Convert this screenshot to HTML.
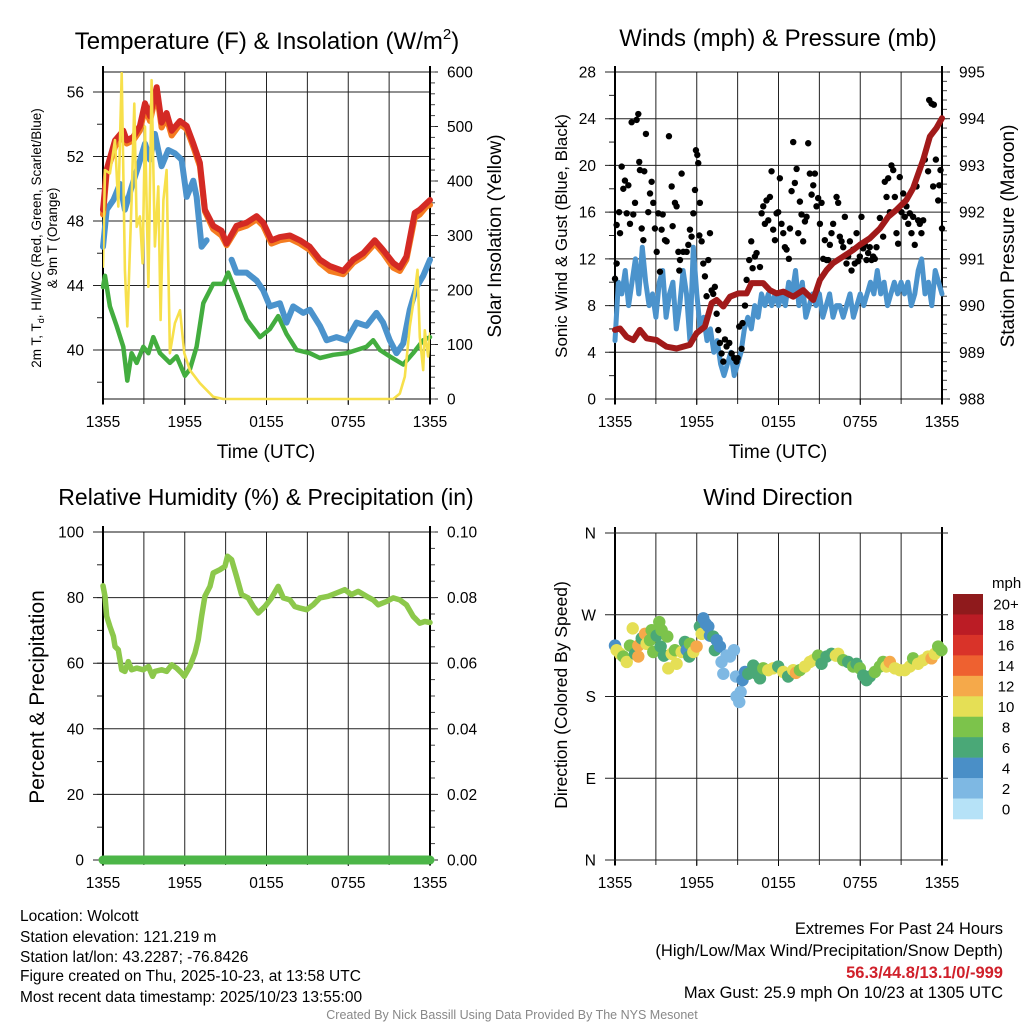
<!DOCTYPE html>
<html>
<head>
<meta charset="utf-8">
<title>Wolcott Mesonet Meteogram</title>
<style>
  html,body{margin:0;padding:0;background:#fff;}
  svg{display:block;font-family:"Liberation Sans",Arial,sans-serif;}
</style>
</head>
<body>
<svg id="chart" width="1024" height="1024" viewBox="0 0 1024 1024" xmlns="http://www.w3.org/2000/svg">
  <rect x="0" y="0" width="1024" height="1024" fill="#fff"/>
  <text x="267" y="49" font-size="24" text-anchor="middle">Temperature (F) &amp; Insolation (W/m<tspan font-size="15" dy="-10">2</tspan><tspan dy="10">)</tspan></text>
  <text x="778" y="46" font-size="24" text-anchor="middle">Winds (mph) &amp; Pressure (mb)</text>
  <text x="266" y="505" font-size="23" text-anchor="middle">Relative Humidity (%) &amp; Precipitation (in)</text>
  <text x="778" y="505" font-size="23" text-anchor="middle">Wind Direction</text>

  <text x="266" y="458" font-size="19" text-anchor="middle">Time (UTC)</text>
  <text x="778" y="458" font-size="19" text-anchor="middle">Time (UTC)</text>
  <text transform="translate(41,238) rotate(-90)" font-size="13.5" text-anchor="middle">2m T, T<tspan font-size="9" dy="3">d</tspan><tspan dy="-3">, HI/WC (Red, Green, Scarlet/Blue)</tspan></text>
  <text transform="translate(57,238) rotate(-90)" font-size="13.5" text-anchor="middle">&amp; 9m T (Orange)</text>
  <text transform="translate(501,236) rotate(-90)" font-size="19" text-anchor="middle">Solar Insolation (Yellow)</text>
  <text transform="translate(567,236) rotate(-90)" font-size="17" text-anchor="middle">Sonic Wind &amp; Gust (Blue, Black)</text>
  <text transform="translate(1014,236) rotate(-90)" font-size="19" text-anchor="middle">Station Pressure (Maroon)</text>
  <text transform="translate(44,697) rotate(-90)" font-size="21" text-anchor="middle">Percent &amp; Precipitation</text>
  <text transform="translate(567,695) rotate(-90)" font-size="17.5" text-anchor="middle">Direction (Colored By Speed)</text>

  <g font-size="15.5">
    <text x="20" y="921">Location: Wolcott</text>
    <text x="20" y="942">Station elevation: 121.219 m</text>
    <text x="20" y="962">Station lat/lon: 43.2287; -76.8426</text>
    <text x="20" y="981">Figure created on Thu, 2025-10-23, at 13:58 UTC</text>
    <text x="20" y="1002">Most recent data timestamp: 2025/10/23 13:55:00</text>
  </g>
  <g font-size="16.5" text-anchor="end">
    <text x="1003" y="934">Extremes For Past 24 Hours</text>
    <text x="1003" y="956">(High/Low/Max Wind/Precipitation/Snow Depth)</text>
    <text x="1003" y="978" fill="#d0202a" font-weight="bold">56.3/44.8/13.1/0/-999</text>
    <text x="1003" y="998">Max Gust: 25.9 mph On 10/23 at 1305 UTC</text>
  </g>
  <text x="512" y="1019" font-size="12.5" fill="#888" text-anchor="middle">Created By Nick Bassill Using Data Provided By The NYS Mesonet</text>
</svg>
<script>
const xTickLabels = ["1355","1955","0155","0755","1355"];
const tempHours = [0,0.27,0.88,1.49,1.74,2.22,2.71,3.08,3.45,3.94,4.30,4.67,5.04,5.65,6.14,6.63,7.11,7.48,8.09,8.70,9.07,9.80,10.54,11.27,11.76,12.37,12.98,13.72,14.45,15.18,15.92,16.65,17.63,18.36,19.10,19.95,20.56,21.30,21.78,22.27,22.88,23.25,23.74,24];
const temp2m = [48.7,51.2,53.0,53.6,53.0,53.2,53.9,55.3,54.5,56.3,54.1,54.7,53.6,54.2,53.9,52.8,51.6,48.7,47.7,47.4,46.6,47.7,47.9,48.3,47.9,46.8,47.0,47.1,46.8,46.4,45.6,45.2,44.9,45.6,46.0,46.8,46.2,45.4,45.1,45.8,48.5,48.7,49.1,49.3];
const temp9m = [48.4,51.0,52.6,53.4,52.8,53.0,53.6,55.0,54.2,56.0,53.8,54.4,53.3,54.0,53.7,52.6,51.4,48.6,47.5,47.1,46.5,47.5,47.7,48.1,47.7,46.6,46.8,46.9,46.6,46.2,45.4,44.9,44.7,45.4,45.8,46.6,46.0,45.1,44.9,45.6,48.2,48.4,48.9,49.0];
const chillHours = [0,0.27,0.76,1.25,1.61,2.10,2.59,3.08,3.45,3.81,4.30,4.79,5.28,5.77,6.14,6.63,6.87,7.24,7.60,8.5,9.44,9.80,10.54,11.27,11.76,12.25,12.98,13.47,13.96,14.69,15.18,15.92,16.41,17.14,17.87,18.61,19.34,20.07,20.56,21.05,21.54,22.03,22.52,23.01,23.50,24];
const windChill = [46.4,48.7,49.3,50.3,48.7,50.1,51.4,52.8,51.8,53.4,51.4,52.4,52.2,51.8,49.5,50.5,49.5,46.4,46.8,null,45.6,44.8,44.8,44.3,43.7,42.7,42.9,41.7,42.7,42.3,42.5,41.5,40.6,40.8,40.6,41.7,41.5,42.3,41.7,40.6,39.8,40.4,42.5,43.9,44.6,45.6];
const dewHours = [0,0.15,0.51,1.0,1.49,1.78,2.10,2.47,2.96,3.33,3.69,4.18,4.91,5.40,6.01,6.38,6.87,7.36,8.09,8.83,9.19,9.80,10.54,11.52,12.25,12.86,13.47,14.21,15.18,15.92,16.90,17.87,18.61,19.34,19.83,20.32,21.05,22.03,22.76,23.50,24];
const dewPoint = [43.9,44.6,42.7,41.5,40.2,38.1,39.8,39.2,40.2,39.8,40.8,39.8,39.2,39.6,38.4,38.8,40.2,42.9,44.1,44.1,44.8,43.5,41.9,40.8,41.3,42.1,41.0,40.0,39.8,39.5,39.7,39.8,40.0,40.2,40.6,40.0,39.6,39.1,39.8,40.6,40.8];
const solarHours = [0,0.15,0.51,0.88,1.12,1.37,1.61,1.78,2.10,2.30,2.47,2.71,2.91,3.08,3.33,3.57,3.81,4.06,4.23,4.43,4.67,4.91,5.28,5.65,5.97,6.38,7.11,8.09,8.83,21.30,21.78,22.15,22.52,22.88,23.08,23.25,23.50,23.62,23.86,24];
const solar = [243,420,414,475,353,598,237,133,365,542,316,335,249,500,206,585,280,390,145,365,420,84,139,163,84,53,29,4,0,0,10,41,133,194,237,114,53,126,78,120];
const p1LeftTicks = [40,44,48,52,56];
const p1RightTicks = [0,100,200,300,400,500,600];
const sonicWind = [5,10,9,11,8,10,12,9,13,10,8,9,7,10,11,7,9,10,6,8,11,9,5,13,
  9,6,7,5,6,4,5,3,2,3,4,2,
  3,4,6,7,6,8,7,9,8,9,8,9,
  8,9,8,10,9,11,8,10,7,8,9,8,
  9,7,8,9,7,8,8,7,8,9,7,8,
  9,8,9,10,9,11,9,10,8,9,10,9,
  10,9,10,8,9,11,12,9,10,8,11,10,9];
const gustHours = [0,0.12,0.12,0.37,0.49,0.3,0.61,0.73,0.86,0.98,1.1,1.22,1.34,1.47,1.59,1.71,1.78,1.83,1.96,2.08,2.15,2.27,2.44,2.57,2.69,2.81,2.93,3.06,3.18,3.3,3.42,3.5,3.67,3.79,3.96,4.16,4.23,4.4,4.52,4.65,4.72,4.77,4.89,5.01,5.26,5.38,5.5,5.62,5.75,5.87,5.94,6.04,6.11,6.19,6.23,6.36,6.48,6.6,6.72,6.85,6.97,7.09,7.21,7.33,7.46,7.58,7.7,7.82,7.95,8.07,8.19,8.39,8.56,8.75,8.92,9,9.12,9.29,9.36,9.54,9.66,9.85,10,10.1,10.27,10.39,10.64,10.76,10.88,11,11.12,11.25,11.37,11.49,11.61,11.74,11.86,11.98,12.1,12.22,12.35,12.47,12.59,12.76,12.84,12.96,13.08,13.2,13.33,13.45,13.57,13.69,13.81,13.94,14.06,14.18,14.3,14.43,14.55,14.67,14.79,14.91,15.04,15.16,15.28,15.4,15.53,15.65,15.77,15.89,16.01,16.26,16.38,16.5,16.63,16.75,16.87,16.99,17.11,17.24,17.36,17.48,17.6,17.73,17.85,17.97,18.09,18.22,18.34,18.46,18.58,18.7,18.83,18.95,19.07,19.19,19.44,19.68,19.8,19.93,20.05,20.17,20.29,20.42,20.54,20.66,20.78,20.9,21.03,21.15,21.27,21.39,21.52,21.64,21.76,21.88,22,22.13,22.25,22.37,22.49,22.62,22.74,22.98,23.06,23.23,23.4,23.35,23.55,23.72,23.8,23.89,24];
const gustValues = [10.3,11.6,14.9,14.2,19.9,16.0,18.0,18.7,15.9,18.3,15.0,23.7,15.8,16.8,23.9,24.4,20.3,19.6,14.6,13.6,19.5,22.7,16.0,17.6,18.6,16.8,14.6,12.6,15.9,10.9,14.5,15.8,13.6,13.5,22.5,18.2,14.8,16.8,16.5,12.6,11.0,11.9,19.3,12.6,12.6,13.2,14.5,13.9,15.9,17.9,21.3,20.9,20.2,14.0,16.8,13.5,11.6,10.5,8.8,11.9,14.2,9.3,9.0,9.6,7.3,5.9,4.8,3.9,3.2,5.1,4.5,4.8,3.9,3.5,3.2,3.5,6.2,4.3,6.5,8.0,10.2,11.9,13.5,11.2,12.2,12.5,11.3,15.9,16.5,15.0,17.0,15.3,17.3,19.5,14.5,13.6,15.9,16.0,18.9,15.0,14.2,13.0,12.8,12.0,14.6,17.8,22.0,18.5,19.7,14.2,16.9,15.8,13.5,15.2,15.6,21.9,19.3,17.5,18.3,19.3,16.5,17.2,15.0,16.8,12.0,13.6,11.9,11.9,13.2,14.2,15.0,17.3,16.8,13.9,13.5,13.0,15.6,11.6,12.2,13.5,11.0,12.8,11.6,14.2,11.8,12.2,15.6,12.9,13.2,11.9,12.5,13.0,11.9,12.2,12.0,13.0,15.5,13.9,18.6,17.3,18.9,16.0,20.0,19.6,17.3,14.2,13.3,19.0,16.0,17.6,15.6,16.5,15.0,15.9,14.2,15.6,13.2,18.2,15.3,15.0,14.2,15.3,20.5,19.5,25.6,25.3,25.2,18.2,20.5,17.0,18.3,19.6,14.6];
const pressureHours = [0,0.37,0.86,1.34,1.83,2.32,3.06,3.79,4.52,5.50,5.99,6.60,7.09,7.46,7.95,8.44,9.05,9.66,10.02,10.88,11.37,11.86,12.35,13.08,13.81,14.55,15.04,15.53,16.01,16.75,17.48,17.97,18.70,19.44,20.05,20.66,21.39,21.88,22.62,23.11,23.59,24];
const pressure = [989.48,989.51,989.33,989.26,989.48,989.30,989.26,989.12,989.08,989.16,989.41,989.55,990.05,990.12,989.98,990.19,990.26,990.26,990.48,990.48,990.33,990.26,990.30,990.19,990.33,990.12,990.55,990.76,990.91,991.05,991.19,991.30,991.44,991.65,991.90,992.05,992.26,992.51,993.12,993.62,993.80,994.01];
const p2LeftTicks = [0,4,8,12,16,20,24,28];
const p2RightTicks = [988,989,990,991,992,993,994,995];
const rhHours = [0,0.15,0.27,0.51,0.76,0.88,1.12,1.37,1.61,1.86,2.1,2.47,2.96,3.33,3.64,3.81,4.3,4.67,5.04,5.4,5.77,5.97,6.38,6.75,6.99,7.24,7.48,7.85,8.09,8.58,8.95,9.14,9.44,9.8,10.17,10.66,11.03,11.39,11.88,12.37,12.86,13.23,13.72,14.08,14.45,14.94,15.43,15.92,16.53,17.14,17.75,18.24,18.73,19.34,19.83,20.2,20.81,21.3,21.78,22.27,22.76,23.25,23.62,24];
const rhValues = [83.6,80.4,74.3,71.2,68.2,65.1,64.1,58.0,57.5,60.5,58.0,58.5,58.0,59.0,56.0,57.5,58.0,57.5,59.5,58.5,57.0,56.0,59.0,63.1,67.1,74.3,80.4,83.4,87.5,88.5,89.5,92.6,91.6,86.5,80.9,79.9,77.3,75.3,77.3,79.9,83.4,79.9,79.3,77.3,76.8,76.3,77.8,79.9,80.4,81.4,82.4,80.9,81.9,80.4,79.3,77.8,78.8,79.9,79.3,77.8,74.3,72.2,72.7,72.4];
const precipHours = [0,6,12,18,24];
const precipValues = [0,0,0,0,0];
const p3LeftTicks = [0,20,40,60,80,100];
const p3RightTicks = [0,0.02,0.04,0.06,0.08,0.10];
const dirHours = [0,0.12,0.37,0.61,0.86,1.10,1.30,1.47,1.71,1.71,1.96,2.20,2.32,2.57,2.69,2.81,3.06,3.25,3.42,3.35,3.59,3.84,3.91,4.16,4.40,4.52,4.89,5.13,5.26,5.45,5.50,5.75,5.99,6.23,6.36,6.48,6.67,6.85,6.97,7.21,7.33,7.46,7.70,7.82,7.95,8.19,8.44,8.73,8.88,8.92,9.12,9.22,9.36,9.54,9.78,10.15,10.39,10.64,10.88,11.25,11.61,11.98,12.35,12.71,13.08,13.28,13.57,13.94,14.30,14.55,14.91,15.16,15.53,15.89,16.21,16.38,16.75,17.11,17.48,17.73,17.97,18.22,18.46,18.70,19.07,19.44,19.68,19.93,20.17,20.54,20.90,21.27,21.64,21.88,22.25,22.62,22.98,23.23,23.47,23.72,23.96];
const dirDegrees = [236,231,227,224,218,236,255,227,236,224,244,249,238,242,253,229,247,262,253,235,225,246,211,227,231,216,229,240,231,224,238,229,235,257,249,266,260,257,247,246,231,242,235,218,205,225,224,231,202,180,174,185,198,207,205,214,205,200,211,209,211,213,207,202,209,206,209,213,218,220,225,216,224,227,225,227,220,218,213,216,211,203,198,202,207,213,218,213,218,211,209,209,213,222,216,220,224,222,227,235,231];
const dirSpeeds = [5,11,11,9,11,9,11,7,13,13,7,13,11,9,9,9,7,9,9,7,7,9,11,11,9,11,11,7,5,7,9,11,13,7,11,5,5,5,5,7,7,5,5,3,3,3,3,3,3,3,3,3,5,5,7,7,7,7,9,11,11,7,11,7,11,13,9,11,11,11,9,7,7,7,11,11,9,7,9,7,9,7,7,7,9,9,9,11,13,11,11,11,11,9,11,11,11,13,11,9,9];
const speedBinLabels = ["20+","18","16","14","12","10","8","6","4","2","0"];
const dirTickLabels = ["N","W","S","E","N"];
const dirTickDegrees = [360,270,180,90,0];

const NS = 'http://www.w3.org/2000/svg';
const svg = document.getElementById('chart');
function mk(tag, attrs, parent) {
  const e = document.createElementNS(NS, tag);
  for (const k in attrs) e.setAttribute(k, attrs[k]);
  (parent || svg).appendChild(e);
  return e;
}
const speedColors = ["#b6e2f7","#7eb8e3","#4a8fc7","#4aa877","#7cc34b","#e5df55","#f5a94a","#ee6130","#d93329","#bb1c25","#8f1a1c"];

const P1 = {id:'p1', x0:103, x1:430, y0:72, y1:399, lmin:36.96, lmax:57.24, rmin:0, rmax:600};
const P2 = {id:'p2', x0:615, x1:942, y0:72, y1:399, lmin:0, lmax:28, rmin:988, rmax:995};
const P3 = {id:'p3', x0:103, x1:430, y0:532, y1:860, lmin:0, lmax:100, rmin:0, rmax:0.1};
const P4 = {id:'p4', x0:615, x1:942, y0:533, y1:860, lmin:0, lmax:360, rmin:0, rmax:360};

function sx(p, h) { return p.x0 + h / 24 * (p.x1 - p.x0); }
function syL(p, v) { return p.y1 - (v - p.lmin) / (p.lmax - p.lmin) * (p.y1 - p.y0); }
function syR(p, v) { return p.y1 - (v - p.rmin) / (p.rmax - p.rmin) * (p.y1 - p.y0); }

function pathD(p, hours, vals, yfn) {
  let d = '', pen = false;
  const n = Math.min(hours.length, vals.length);
  for (let i = 0; i < n; i++) {
    if (vals[i] === null || hours[i] === null) { pen = false; continue; }
    d += (pen ? 'L' : 'M') + sx(p, hours[i]).toFixed(1) + ' ' + yfn(p, vals[i]).toFixed(1) + ' ';
    pen = true;
  }
  return d;
}

function frame(p, leftTicks, leftMinor, leftFmt, rightTicks, rightMinor, rightFmt) {
  const g = mk('g', {});
  
  
  for (let i = 1; i < 8; i++) {
    const x = sx(p, i * 3);
    const l = mk('line', {x1:x, x2:x, y1:p.y0, y2:p.y1 + 5, stroke:'#222', 'stroke-width':1}, g);
    
    
  }
  leftTicks.forEach(v => {
    const y = syL(p, v);
    const l = mk('line', {x1:p.x0 - 10, x2:p.x1, y1:y, y2:y, stroke:'#222', 'stroke-width':1}, g);
    
    
    const t = mk('text', {x:p.x0 - 19, y:y + 5.5, 'font-size':15.5, 'text-anchor':'end'}, g);
    t.textContent = leftFmt(v);
    
    
  });
  leftMinor.forEach(v => {
    const y = syL(p, v);
    const l = mk('line', {x1:p.x0 - 6, x2:p.x0, y1:y, y2:y, stroke:'#222', 'stroke-width':1}, g);
    
    
  });
  rightTicks.forEach(v => {
    const y = syR(p, v);
    const l = mk('line', {x1:p.x1, x2:p.x1 + 8, y1:y, y2:y, stroke:'#222', 'stroke-width':1}, g);
    
    
    if (rightFmt) {
      const t = mk('text', {x:p.x1 + 17, y:y + 5.5, 'font-size':15.5}, g);
      t.textContent = rightFmt(v);
      
      
    }
  });
  rightMinor.forEach(v => {
    const y = syR(p, v);
    const l = mk('line', {x1:p.x1, x2:p.x1 + 5, y1:y, y2:y, stroke:'#444', 'stroke-width':1}, g);
    
    
  });
  const b = mk('rect', {x:p.x0, y:p.y0, width:p.x1 - p.x0, height:p.y1 - p.y0, fill:'none', stroke:'#111', 'stroke-width':1}, g);
  
  
  [p.x0, p.x1].forEach(x => {
    const l = mk('line', {x1:x, x2:x, y1:p.y0 - 6, y2:p.y1 + 5, stroke:'#000', 'stroke-width':2}, g);
    
    
  });
  xTickLabels.forEach((s, i) => {
    const x = sx(p, i * 6);
    const l = mk('line', {x1:x, x2:x, y1:p.y1, y2:p.y1 + 6, stroke:'#000', 'stroke-width':1}, g);
    
    
    const t = mk('text', {x:x, y:p.y1 + 28, 'font-size':15.5, 'text-anchor':'middle'}, g);
    t.textContent = s;
    
    
  });
}
function range(a, b, s) { const r = []; for (let v = a; v <= b + 1e-9; v += s) r.push(+v.toFixed(4)); return r; }

frame(P1, p1LeftTicks, range(38, 56, 2), v => String(v), p1RightTicks, range(0, 600, 20), v => String(v));
frame(P2, p2LeftTicks, range(0, 28, 2), v => String(v), p2RightTicks, range(988, 995, 0.2), v => String(v));
frame(P3, p3LeftTicks, range(0, 100, 10), v => String(v), p3RightTicks, range(0, 0.1, 0.005), v => v.toFixed(2));
frame(P4, [], [], v => '', [], [], null);
dirTickDegrees.forEach((deg, i) => {
  const y = syL(P4, deg);
  const l = mk('line', {x1:P4.x0 - 10, x2:P4.x1 + 6, y1:y, y2:y, stroke:'#222', 'stroke-width':1});
  
  
  const t = mk('text', {x:P4.x0 - 19, y:y + 5.5, 'font-size':15.5, 'text-anchor':'end'});
  t.textContent = dirTickLabels[i];
  
  
});

const s1 = mk('g', {fill:'none', 'stroke-linejoin':'round', 'stroke-linecap':'round'});


const dewLine = mk('path', {d:pathD(P1, dewHours, dewPoint, syL), stroke:'#43ad3f', 'stroke-width':4.5}, s1);


const chillLine = mk('path', {d:pathD(P1, chillHours, windChill, syL), stroke:'#4b93cc', 'stroke-width':6}, s1);


const t9Line = mk('path', {d:pathD(P1, tempHours, temp9m, syL), stroke:'#f47c20', 'stroke-width':6}, s1);


const t2Line = mk('path', {d:pathD(P1, tempHours, temp2m, syL), stroke:'#d42a24', 'stroke-width':6}, s1);


const clip1 = mk('clipPath', {id:'clip-p1'});
mk('rect', {x:P1.x0, y:P1.y0, width:P1.x1 - P1.x0, height:P1.y1 - P1.y0 + 2}, clip1);
const solarLine = mk('path', {d:pathD(P1, solarHours, solar, syR), stroke:'#f7e04b', 'stroke-width':2.6, 'clip-path':'url(#clip-p1)'}, s1);



const s2 = mk('g', {fill:'none', 'stroke-linejoin':'round', 'stroke-linecap':'round'});


const windHours = sonicWind.map((v, i) => i * 24 / (sonicWind.length - 1));
const windLine = mk('path', {d:pathD(P2, windHours, sonicWind, syL), stroke:'#4b93cc', 'stroke-width':5}, s2);


const gustG = mk('g', {fill:'#000'}, s2);


const nG = Math.min(gustHours.length, gustValues.length);
for (let i = 0; i < nG; i++) {
  const c = mk('circle', {cx:sx(P2, gustHours[i]), cy:syL(P2, gustValues[i]), r:3.2}, gustG);
  
  
}
const presLine = mk('path', {d:pathD(P2, pressureHours, pressure, syR), stroke:'#a11a1a', 'stroke-width':6}, s2);



const s3 = mk('g', {fill:'none', 'stroke-linejoin':'round', 'stroke-linecap':'round'});


const rhLine = mk('path', {d:pathD(P3, rhHours, rhValues, syL), stroke:'#8cc84b', 'stroke-width':5.5}, s3);


const prLine = mk('path', {d:pathD(P3, precipHours, precipValues, syR), stroke:'#4cb648', 'stroke-width':9}, s3);



const s4 = mk('g', {});


const nD = Math.min(dirHours.length, dirDegrees.length, dirSpeeds.length);
for (let i = 0; i < nD; i++) {
  const bin = Math.min(10, Math.floor(dirSpeeds[i] / 2));
  const c = mk('circle', {cx:sx(P4, dirHours[i]), cy:syL(P4, dirDegrees[i]), r:6.2, fill:speedColors[bin]}, s4);
  
  
}

const cb = mk('g', {});


const cbTitle = mk('text', {x:992, y:588, 'font-size':15}, cb);
cbTitle.textContent = 'mph';


const boxH = (819 - 594) / speedBinLabels.length;
speedBinLabels.forEach((lab, i) => {
  const y = 594 + i * boxH;
  const r = mk('rect', {x:953, y:y, width:30, height:boxH + 0.3, fill:speedColors[10 - i]}, cb);
  
  
  const t = mk('text', {x:1006, y:y + boxH / 2 + 5.5, 'font-size':15, 'text-anchor':'middle'}, cb);
  t.textContent = lab;
  
  
});
</script>
</body>
</html>
